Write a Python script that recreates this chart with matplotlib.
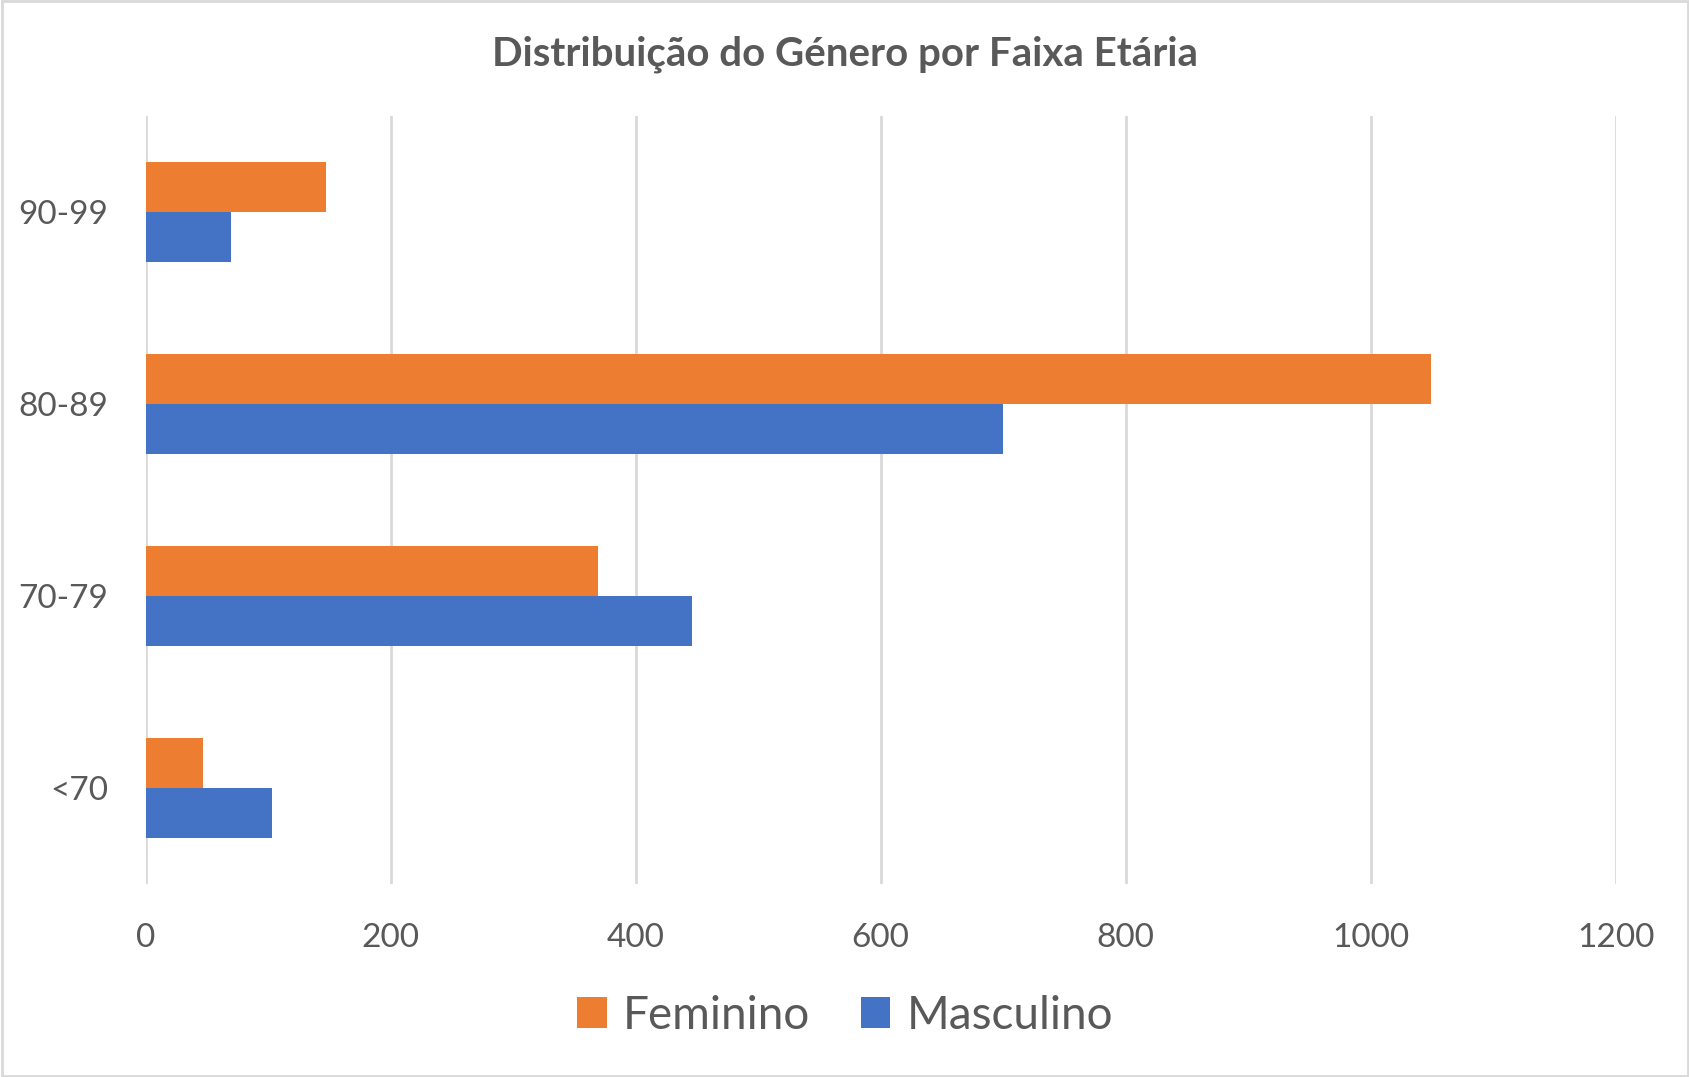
import matplotlib.pyplot as plt
import numpy as np
from matplotlib.patches import Rectangle

# data
faixas = ['<70', '70-79', '80-89', '90-99']
feminino = [47, 369, 1049, 147]
masculino = [103, 446, 700, 70]

cor_fem = '#ED7D31'
cor_masc = '#4472C4'
cinza = '#595959'

plt.rcParams['font.family'] = ['Lato', 'DejaVu Sans']

fig = plt.figure(figsize=(16.9, 10.77), dpi=100)
ax = fig.add_axes([0.0861, 0.1794, 0.8699, 0.7125])

y = np.arange(len(faixas))
h = 0.26
ax.barh(y + h/2, feminino, height=h, color=cor_fem, label='Feminino')
ax.barh(y - h/2, masculino, height=h, color=cor_masc, label='Masculino')

ax.set_xlim(0, 1200)
ax.set_ylim(-0.5, 3.5)
ax.set_xticks(range(0, 1201, 200))
ax.set_yticks(y)
ax.set_yticklabels(faixas)
ax.tick_params(axis='both', length=0, labelsize=24, colors=cinza)
ax.tick_params(axis='x', pad=28)
ax.tick_params(axis='y', pad=27)
ax.grid(axis='x', color='#d9d9d9', linewidth=2)
ax.set_axisbelow(True)
for s in ax.spines.values():
    s.set_visible(False)

fig.suptitle('Distribuição do Género por Faixa Etária', y=0.967,
             fontsize=29, fontweight='bold', color=cinza)

leg = fig.legend(loc='center', bbox_to_anchor=(0.5, 0.057), ncol=2,
                 frameon=False, fontsize=33, handlelength=0.65,
                 handleheight=0.65, handletextpad=0.35, columnspacing=1.1)
for t in leg.get_texts():
    t.set_color(cinza)

# chart area border
fig.patches.append(Rectangle((0.001, 0.001), 0.998, 0.998, transform=fig.transFigure,
                             fill=False, edgecolor='#d9d9d9', linewidth=2))

fig.savefig('out.png', dpi=100)
